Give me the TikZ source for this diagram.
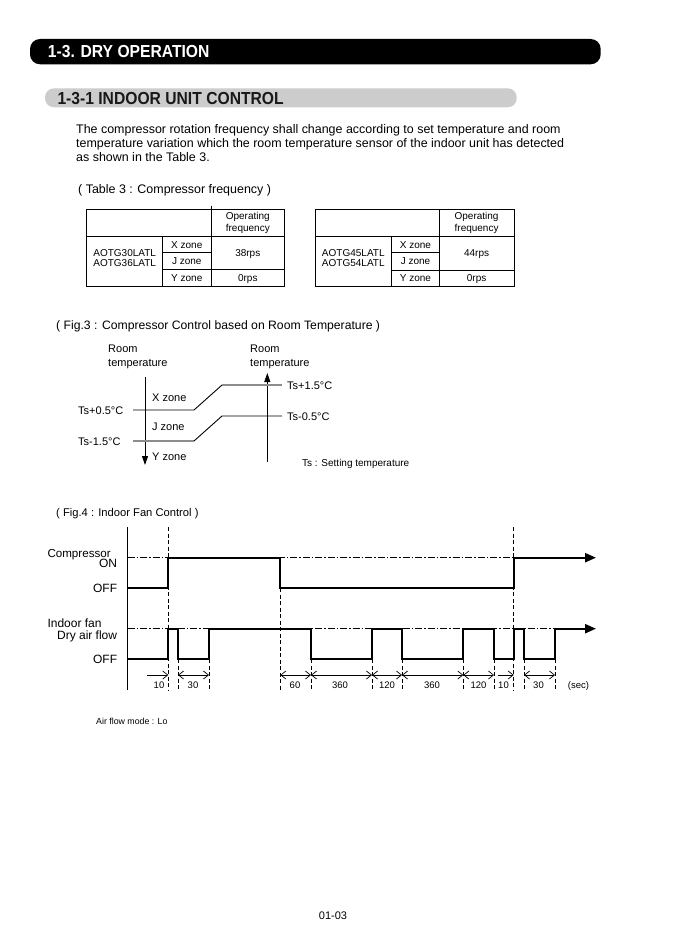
\documentclass[tikz,border=0pt]{standalone}
\usepackage{fontspec}
\setmainfont{Liberation Sans}
\newfontfamily\hdrfont[FakeStretch=0.9]{Liberation Sans}
\usetikzlibrary{arrows.meta}
\newcommand{\fs}[1]{\fontsize{#1}{#1}\selectfont}
\tikzset{dimtip/.tip={Straight Barb[length=5pt,width=8pt,line width=0.7pt]}}
\begin{document}
\begin{tikzpicture}[x=1pt,y=-1pt,
  lab/.style={inner sep=0pt,anchor=base west},
  labr/.style={inner sep=0pt,anchor=base east},
  labc/.style={inner sep=0pt,anchor=base},
  sig/.style={line width=2.3pt,line join=miter},
  sigarrow/.style={sig,-{Triangle[length=11pt,width=9pt]}},
  vdash/.style={line width=0.7pt,dash pattern=on 4pt off 2.5pt},
  dashdot/.style={line width=0.7pt,dash pattern=on 7pt off 2pt on 1.5pt off 2pt},
  dimline/.style={line width=0.7pt},
  tbl/.style={line width=0.8pt},
  grayline/.style={line width=1.3pt,color=black!45},
  blkline/.style={line width=0.9pt},
  axisarrow/.style={line width=0.9pt,-{Triangle[length=9pt,width=6pt]}}
]
\useasboundingbox (0,0) rectangle (672,939);
\fill[white] (0,0) rectangle (672,939);

% ---------- headers ----------
\fill[black,rounded corners=10pt] (30,39) rectangle (600.7,64.3);
\node[lab,text=white] (h1) at (47.7,57.8) {\hdrfont\bfseries\fs{17.4}1-3. DRY OPERATION};
\fill[black!20,rounded corners=9pt] (45,88.3) rectangle (516.7,107.3);
\node[lab,text=black!90] (h2) at (57.3,104.2) {\hdrfont\bfseries\fs{17.4}1-3-1 INDOOR UNIT CONTROL};

% ---------- body ----------
\node[lab] (b1) at (76,134) {\fs{12.45}The compressor rotation frequency shall change according to set temperature and room};
\node[lab] (b2) at (76,147.6) {\fs{12.45}temperature variation which the room temperature sensor of the indoor unit has detected};
\node[lab] (b3) at (76,161.2) {\fs{12.45}as shown in the Table 3.};
\node[lab] (cap3) at (78,193.4) {\fs{12.45}( Table 3 : Compressor frequency )};

% ---------- table 1 ----------
\draw[tbl] (86.7,209) rectangle (284.5,286);
\draw[tbl] (86.7,236.7) -- (284.5,236.7);
\draw[tbl] (162.7,236.7) -- (162.7,286);
\draw[tbl] (211,205.5) -- (211,286);
\draw[tbl] (162.7,252.3) -- (211,252.3);
\draw[tbl] (162.7,269.3) -- (284.5,269.3);
\node[labc] (t1op) at (247.8,219.6) {\fs{10}Operating};
\node[labc] (t1fr) at (247.8,231.2) {\fs{10}frequency};
\node[labc] (t1m1) at (124.7,256.9) {\fs{10}AOTG30LATL};
\node[labc] (t1m2) at (124.7,266.6) {\fs{10}AOTG36LATL};
\node[labc] (t1x) at (186.8,248.1) {\fs{10}X zone};
\node[labc] (t1j) at (186.8,264.4) {\fs{10}J zone};
\node[labc] (t1y) at (186.8,281.3) {\fs{10}Y zone};
\node[labc] (t1f) at (247.8,256.6) {\fs{10}38rps};
\node[labc] (t1z) at (247.8,281.3) {\fs{10}0rps};

% ---------- table 2 ----------
\draw[tbl] (315,209) rectangle (514,286);
\draw[tbl] (315,236.7) -- (514,236.7);
\draw[tbl] (391.7,236.7) -- (391.7,286);
\draw[tbl] (439.3,209) -- (439.3,286);
\draw[tbl] (391.7,252.3) -- (439.3,252.3);
\draw[tbl] (391.7,270) -- (514,270);
\node[labc] (t2op) at (476.6,219.6) {\fs{10}Operating};
\node[labc] (t2fr) at (476.6,231.2) {\fs{10}frequency};
\node[labc] (t2m1) at (353.3,256.9) {\fs{10}AOTG45LATL};
\node[labc] (t2m2) at (353.3,266.6) {\fs{10}AOTG54LATL};
\node[labc] (t2x) at (415.5,248.1) {\fs{10}X zone};
\node[labc] (t2j) at (415.5,264.4) {\fs{10}J zone};
\node[labc] (t2y) at (415.5,281.6) {\fs{10}Y zone};
\node[labc] (t2f) at (476.6,256.9) {\fs{10}44rps};
\node[labc] (t2z) at (476.6,281.6) {\fs{10}0rps};

% ---------- Fig.3 ----------
\node[lab] (cap3f) at (56,329.4) {\fs{12.2}( Fig.3 : Compressor Control based on Room Temperature )};
\node[lab] (rt1a) at (108,352) {\fs{11}Room};
\node[lab] (rt1b) at (108,366) {\fs{11}temperature};
\node[lab] (rt2a) at (250,352) {\fs{11}Room};
\node[lab] (rt2b) at (250,366) {\fs{11}temperature};
\coordinate (la1) at (145,377);
\coordinate (la2) at (145,465);
\coordinate (ra1) at (267.3,462);
\coordinate (ra2) at (267.3,373);
\draw[axisarrow] (la1) -- (la2);
\draw[axisarrow] (ra1) -- (ra2);
\coordinate (u1) at (133,410);
\coordinate (u2) at (194,410);
\coordinate (u3) at (222,385);
\coordinate (u4) at (282,385);
\coordinate (d1) at (133,441);
\coordinate (d2) at (194,441);
\coordinate (d3) at (222,416);
\coordinate (d4) at (282,416);
\draw[blkline] (u1) -- (u2) -- (u3);
\draw[grayline] (u3) -- (u4);
\draw[grayline] (d1) -- (d2);
\draw[blkline] (d2) -- (d3) -- (d4);
\node[lab] (tsp05) at (78,414) {\fs{11}Ts+0.5°C};
\node[lab] (tsm15) at (78,445) {\fs{11}Ts-1.5°C};
\node[lab] (tsp15) at (287,389) {\fs{11}Ts+1.5°C};
\node[lab] (tsm05) at (287,420) {\fs{11}Ts-0.5°C};
\node[lab] (xz) at (152,401) {\fs{11}X zone};
\node[lab] (jz) at (152,430) {\fs{11}J zone};
\node[lab] (yz) at (152,460) {\fs{11}Y zone};
\node[lab] (tsn) at (302,466.6) {\fs{10}Ts : Setting temperature};

% ---------- Fig.4 ----------
\node[lab] (cap4f) at (56,516.5) {\fs{11.2}( Fig.4 : Indoor Fan Control )};
\node[lab] (comp) at (47.3,557) {\fs{11.6}Compressor};
\node[labr] (con) at (117.3,567.6) {\fs{12}ON};
\node[labr] (coff) at (117.3,592.6) {\fs{12}OFF};
\node[lab] (ifan) at (47.3,627.6) {\fs{12}Indoor fan};
\node[labr] (dry) at (117.3,639.3) {\fs{12}Dry air flow};
\node[labr] (foff) at (117.3,663.6) {\fs{12}OFF};

% axis
\draw[line width=0.9pt] (127.7,527) -- (127.7,690);
% dash-dot reference levels
\draw[dashdot] (127.7,557.7) -- (590,557.7);
\draw[dashdot] (127.7,628.7) -- (590,628.7);
% dashed verticals
\draw[vdash] (168.3,527) -- (168.3,690);
\draw[vdash] (513.7,527) -- (513.7,690);
\draw[vdash] (280.3,588) -- (280.3,690);
\foreach \xx in {178,209,311,372,402,463.3,494,524,555}
  \draw[vdash] (\xx,659) -- (\xx,690);
% compressor signal
\draw[sigarrow] (127.7,588) -- (168.3,588) -- (168.3,557.7) -- (280.3,557.7) -- (280.3,588) -- (513.7,588) -- (513.7,557.7) -- (596,557.7);
% fan signal
\draw[sigarrow] (127.7,659) -- (168.3,659) -- (168.3,628.7) -- (178,628.7) -- (178,659) -- (209,659) -- (209,628.7) -- (311,628.7) -- (311,659) -- (372,659) -- (372,628.7) -- (402,628.7) -- (402,659) -- (463.3,659) -- (463.3,628.7) -- (494,628.7) -- (494,659) -- (513.7,659) -- (513.7,628.7) -- (524,628.7) -- (524,659) -- (555,659) -- (555,628.7) -- (596,628.7);

% dimension arrows
\draw[dimline,-{dimtip}] (147,675) -- (168.3,675);
\draw[dimline,{dimtip}-{dimtip}] (178,675) -- (209,675);
\draw[dimline,{dimtip}-{dimtip}] (280.3,675) -- (311,675);
\draw[dimline,{dimtip}-{dimtip}] (311,675) -- (372,675);
\draw[dimline,{dimtip}-{dimtip}] (372,675) -- (402,675);
\draw[dimline,{dimtip}-{dimtip}] (402,675) -- (463.3,675);
\draw[dimline,{dimtip}-{dimtip}] (463.3,675) -- (494,675);
\draw[dimline,-{dimtip}] (497.7,675) -- (513.7,675);
\draw[dimline,{dimtip}-{dimtip}] (524,675) -- (555,675);
\node[labc] (d10a) at (159,688.4) {\fs{9.5}10};
\node[labc] (d30a) at (193,688.4) {\fs{9.5}30};
\node[labc] (d60) at (295,688.4) {\fs{9.5}60};
\node[labc] (d360a) at (340,688.4) {\fs{9.5}360};
\node[labc] (d120a) at (387,688.4) {\fs{9.5}120};
\node[labc] (d360b) at (432,688.4) {\fs{9.5}360};
\node[labc] (d120b) at (478.5,688.4) {\fs{9.5}120};
\node[labc] (d10b) at (503.5,688.4) {\fs{9.5}10};
\node[labc] (d30b) at (538.5,688.4) {\fs{9.5}30};
\node[labc] (dsec) at (578.5,688.4) {\fs{9.5}(sec)};

\node[lab] (afm) at (96,724) {\fs{8.8}Air flow mode : Lo};

\node[labc] (pg) at (333,919) {\fs{11}01-03};
\end{tikzpicture}
\end{document}
